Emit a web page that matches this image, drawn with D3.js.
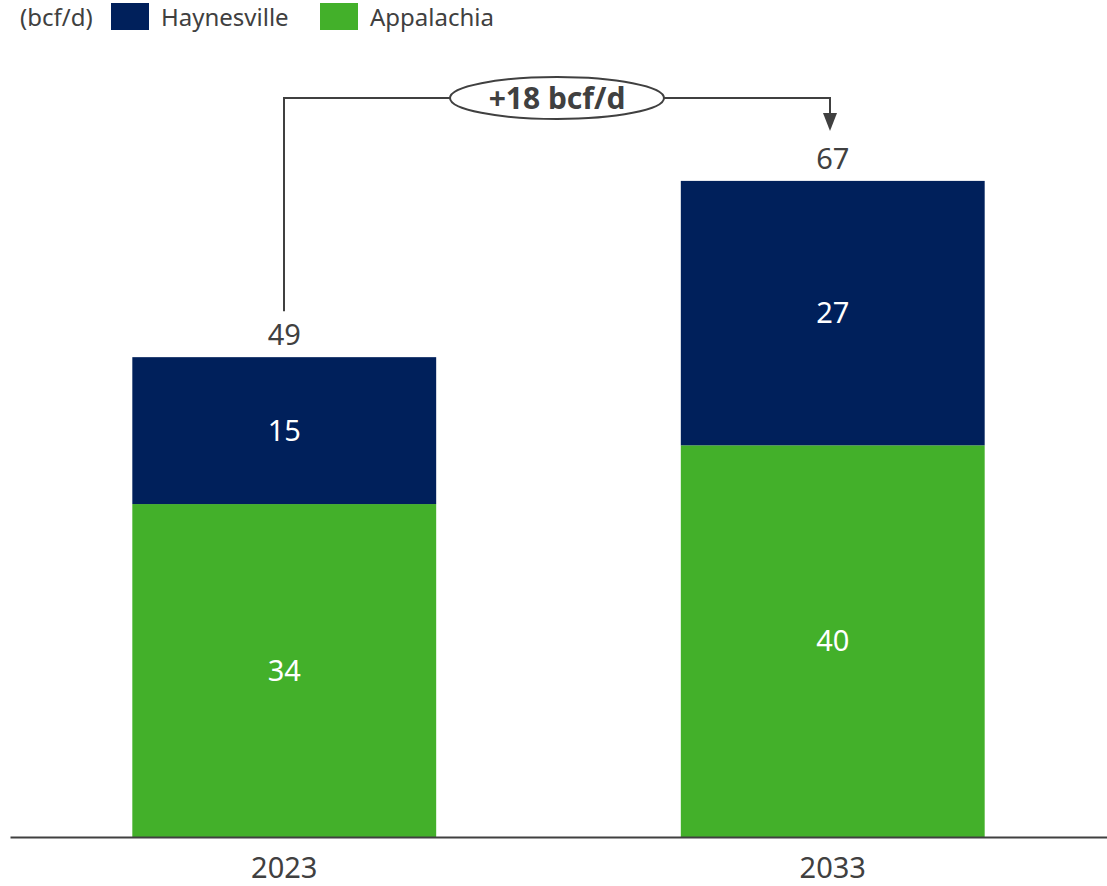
<!DOCTYPE html>
<html>
<head>
<meta charset="utf-8">
<script src="https://cdn.jsdelivr.net/npm/d3@7"></script>
<style>
  body { margin: 0; background: #fff; }
  text { font-family: "Noto Sans", "Open Sans", sans-serif; fill: #404040; }
</style>
</head>
<body>
<script>
// chart data
var years = ["2023", "2033"];
var appalachia = [34, 40];
var haynesville = [15, 27];
var totals = [49, 67];
var seriesNames = ["Haynesville", "Appalachia"];
var colors = {Haynesville: "#00205B", Appalachia: "#43B02A"};
var unit = "(bcf/d)";
var changeLabel = "+18 bcf/d";

var width = 1107,
    height = 886;

var svg = d3.select("body")
    .append("svg")
    .attr("width", width)
    .attr("height", height);

var x = d3.scaleBand()
    .domain(years)
    .range([10, 1107])
    .paddingInner(0.446)
    .paddingOuter(0.223);

var y = d3.scaleLinear()
    .domain([0, 67.5])
    .range([837, 176]);

var rows = years.map(function(d, i){
    return {year: d, Appalachia: appalachia[i], Haynesville: haynesville[i], total: totals[i]};
});

var stack = d3.stack().keys(["Appalachia", "Haynesville"]);
var layers = stack(rows);

//bars
var groups = svg.selectAll(".layer")
    .data(layers)
    .enter()
    .append("g")
    .attr("class", "layer")
    .attr("fill", function(d){ return colors[d.key]; });

groups.selectAll("rect")
    .data(function(d){ return d; })
    .enter()
    .append("rect")
    .attr("x", function(d){ return x(d.data.year); })
    .attr("width", x.bandwidth())
    .attr("y", function(d){ return y(d[1]); })
    .attr("height", function(d){ return y(d[0]) - y(d[1]); });

//values inside segments
groups.selectAll(".val")
    .data(function(d){ return d; })
    .enter()
    .append("text")
    .attr("class", "val")
    .attr("x", function(d){ return x(d.data.year) + x.bandwidth() / 2; })
    .attr("y", function(d){ return (y(d[0]) + y(d[1])) / 2; })
    .attr("dy", "0.35em")
    .attr("text-anchor", "middle")
    .style("fill", "#fff")
    .style("font-size", "29px")
    .text(function(d){ return d[1] - d[0]; });

//totals
svg.selectAll(".total")
    .data(rows)
    .enter()
    .append("text")
    .attr("class", "total")
    .attr("x", function(d){ return x(d.year) + x.bandwidth() / 2; })
    .attr("y", function(d){ return y(d.total) - 12; })
    .attr("text-anchor", "middle")
    .style("font-size", "29px")
    .text(function(d){ return d.total; });

//x axis
var axis = svg.append("g")
    .attr("transform", "translate(0," + y(0) + ")")
    .call(d3.axisBottom(x).tickSize(0).tickPadding(20));
axis.select(".domain").attr("stroke", "#404040").attr("stroke-width", 2);
axis.selectAll("text")
    .style("font-size", "29px")
    .style("font-family", "\"Noto Sans\", sans-serif")
    .attr("fill", "#404040");

//change connector
var x0 = 284,
    x1 = 830,
    lineY = 98,
    cx = 557;

svg.append("path")
    .attr("d", "M" + x0 + "," + (y(totals[0]) - 46) + " V" + lineY + " H" + x1 + " V" + (y(totals[1]) - 60))
    .attr("fill", "none")
    .attr("stroke", "#404040")
    .attr("stroke-width", 2);

svg.append("path")
    .attr("d", "M" + (x1 - 7) + "," + (y(totals[1]) - 68) + " L" + (x1 + 7) + "," + (y(totals[1]) - 68) + " L" + x1 + "," + (y(totals[1]) - 50) + " Z")
    .attr("fill", "#404040");

svg.append("ellipse")
    .attr("cx", cx).attr("cy", lineY)
    .attr("rx", 107).attr("ry", 21)
    .attr("fill", "#fff")
    .attr("stroke", "#404040")
    .attr("stroke-width", 2);

svg.append("text")
    .attr("x", cx).attr("y", lineY)
    .attr("dy", "0.35em")
    .attr("text-anchor", "middle")
    .style("font-size", "30px")
    .style("font-weight", "bold")
    .text(changeLabel);

//legend
var legend = svg.append("g");
legend.append("text")
    .attr("x", 20).attr("y", 18)
    .attr("dy", "0.35em")
    .style("font-size", "24px")
    .text(unit);

var items = legend.selectAll(".item")
    .data(seriesNames)
    .enter()
    .append("g")
    .attr("transform", function(d, i){ return "translate(" + (111 + i * 209) + ",0)"; });
items.append("rect")
    .attr("y", 3).attr("width", 38).attr("height", 27)
    .attr("fill", function(d){ return colors[d]; });
items.append("text")
    .attr("x", 50).attr("y", 18)
    .attr("dy", "0.35em")
    .style("font-size", "24px")
    .text(function(d){ return d; });
</script>
</body>
</html>
